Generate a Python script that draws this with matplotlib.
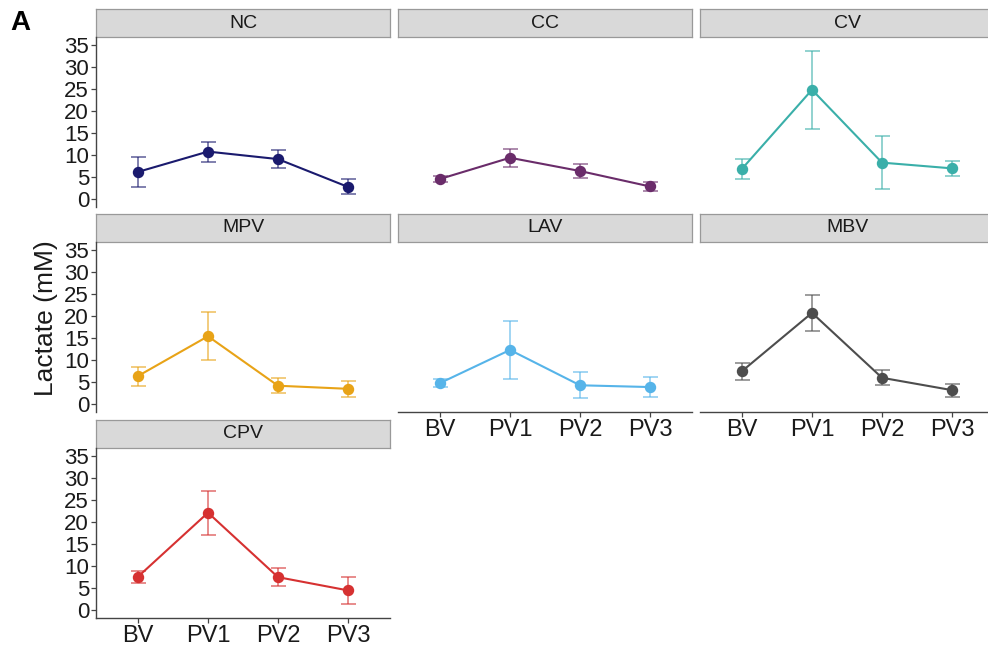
import matplotlib
matplotlib.use("Agg")
import matplotlib.pyplot as plt
import numpy as np

plt.rcParams['font.family'] = ['Liberation Sans', 'DejaVu Sans']

# data (mean lactate, mM, and error half-width)
groups = ["NC", "CC", "CV", "MPV", "LAV", "MBV", "CPV"]
timepoints = ["BV", "PV1", "PV2", "PV3"]

nc_mean = [6.2, 10.8, 9.1, 2.8]
nc_err = [3.4, 2.25, 2.1, 1.7]
cc_mean = [4.6, 9.4, 6.4, 2.9]
cc_err = [0.7, 2.0, 1.65, 1.0]
cv_mean = [6.9, 24.8, 8.3, 7.0]
cv_err = [2.25, 8.85, 6.05, 1.7]
mpv_mean = [6.4, 15.4, 4.2, 3.5]
mpv_err = [2.15, 5.45, 1.65, 1.8]
lav_mean = [4.8, 12.3, 4.3, 3.9]
lav_err = [0.9, 6.6, 2.9, 2.2]
mbv_mean = [7.5, 20.7, 6.0, 3.2]
mbv_err = [1.9, 4.1, 1.7, 1.5]
cpv_mean = [7.6, 22.1, 7.5, 4.5]
cpv_err = [1.4, 5.0, 2.1, 3.0]

means = [nc_mean, cc_mean, cv_mean, mpv_mean, lav_mean, mbv_mean, cpv_mean]
errs = [nc_err, cc_err, cv_err, mpv_err, lav_err, mbv_err, cpv_err]
colors = ["#1a1a6e", "#6a2c6a", "#3aafa9", "#e8a317", "#56b4e9", "#4d4d4d", "#d63131"]

W, H = 988, 645
fig = plt.figure(figsize=(W / 100, H / 100), dpi=100)

col_left = [96, 398, 700]
row_top = [9, 214, 420]
pw, strip_h, row_h = 294, 28, 198
axis_col = "#444444"

x = np.arange(1, len(timepoints) + 1)

for i, g in enumerate(groups):
    r, c = divmod(i, 3)
    left = col_left[c]
    top = row_top[r]

    # strip
    sax = fig.add_axes([left / W, 1 - (top + strip_h) / H, pw / W, strip_h / H])
    sax.set_facecolor("#d9d9d9")
    sax.set_xticks([])
    sax.set_yticks([])
    for s in sax.spines.values():
        s.set_color("#999999")
        s.set_linewidth(0.9)
    sax.text(0.5, 0.5, g, ha="center", va="center", fontsize=14,
             color="#1a1a1a", transform=sax.transAxes)

    # panel
    ax = fig.add_axes([left / W, 1 - (top + row_h) / H, pw / W, (row_h - strip_h) / H])
    ax.errorbar(x, means[i], yerr=errs[i], fmt="none", ecolor=colors[i],
                alpha=0.7, elinewidth=1.1, capsize=5.4, capthick=1.1, zorder=2)
    ax.plot(x, means[i], color=colors[i], lw=1.5, marker="o", ms=7.2, zorder=3)
    ax.set_xlim(0.4, 4.6)
    ax.set_ylim(-1.75, 36.75)

    for s in ["top", "right"]:
        ax.spines[s].set_visible(False)

    if c == 0:
        ax.spines["left"].set_color(axis_col)
        ax.spines["left"].set_linewidth(1.0)
        ax.set_yticks(np.arange(0, 36, 5))
        ax.tick_params(axis="y", length=3.5, width=0.9, color=axis_col,
                       labelsize=16, pad=1.5, labelcolor="#1a1a1a")
    else:
        ax.spines["left"].set_visible(False)
        ax.set_yticks([])

    bottom_of_col = (i + 3 >= len(groups))
    if bottom_of_col:
        ax.spines["bottom"].set_color(axis_col)
        ax.spines["bottom"].set_linewidth(1.0)
        ax.set_xticks(x)
        ax.set_xticklabels(timepoints)
        ax.tick_params(axis="x", length=3.5, width=0.9, color=axis_col,
                       labelsize=17, pad=1.5, labelcolor="#1a1a1a")
    else:
        ax.spines["bottom"].set_visible(False)
        ax.set_xticks([])

    ax.set_facecolor("none")

fig.text(46 / W, 1 - 318 / H, "Lactate (mM)", rotation=90, ha="center",
         va="center", fontsize=19, color="#1a1a1a")
fig.text(10 / W, 1 - 23 / H, "A", fontsize=20, fontweight="bold",
         ha="left", va="center")

fig.savefig("out.png", dpi=100)
